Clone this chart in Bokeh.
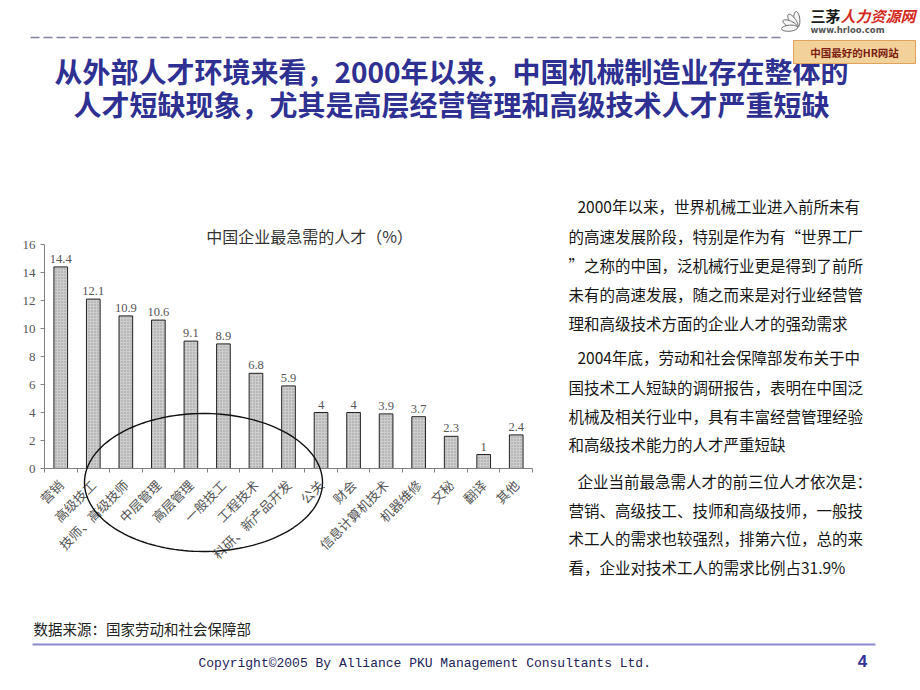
import numpy as np
from bokeh.plotting import figure
from bokeh.models import (Range1d, FixedTicker, CustomJSTickFormatter, ColumnDataSource,
                          LabelSet, Label, PolyAnnotation, Arrow, BoxAnnotation, LinearAxis)
from bokeh.core.properties import value
from bokeh.embed import file_html
from bokeh.resources import INLINE

# ---------------- data ----------------
categories = ["营销", "高级技工", "技师、高级技师", "中层管理", "高层管理", "一般技工",
              "工程技术", "科研、新产品开发", "公关", "财会", "信息计算机技术", "机器维修",
              "文秘", "翻译", "其他"]
values = [14.4, 12.1, 10.9, 10.6, 9.1, 8.9, 6.8, 5.9, 4, 4, 3.9, 3.7, 2.3, 1, 2.4]
y_ticks = [0, 2, 4, 6, 8, 10, 12, 14, 16]

chart_title = "中国企业最急需的人才（%）"
page_title = ["从外部人才环境来看，2000年以来，中国机械制造业存在整体的",
              "人才短缺现象，尤其是高层经营管理和高级技术人才严重短缺"]
paragraph_lines = [
    "2000年以来，世界机械工业进入前所未有",
    "的高速发展阶段，特别是作为有“世界工厂",
    "”之称的中国，泛机械行业更是得到了前所",
    "未有的高速发展，随之而来是对行业经营管",
    "理和高级技术方面的企业人才的强劲需求",
    "2004年底，劳动和社会保障部发布关于中",
    "国技术工人短缺的调研报告，表明在中国泛",
    "机械及相关行业中，具有丰富经营管理经验",
    "和高级技术能力的人才严重短缺",
    "企业当前最急需人才的前三位人才依次是：",
    "营销、高级技工、技师和高级技师，一般技",
    "术工人的需求也较强烈，排第六位，总的来",
    "看，企业对技术工人的需求比例占31.9%",
]
paragraph_indent = [True, False, False, False, False, True, False, False, False, True, False, False, False]
paragraph_y = [205, 235, 264, 293, 322, 356, 386, 415, 443, 480, 509, 537, 566]
source_text = "数据来源：国家劳动和社会保障部"
copyright_text = "Copyright©2005 By Alliance PKU Management Consultants Ltd."
page_number = "4"

# ---------------- layout ----------------
W, H = 920, 690
FL, FR, FT, FB = 44, 532, 244, 468      # chart plot area on the page (px)
n = len(categories)
YMAX = y_ticks[-1]

# page-wide frame in pixel units (y downwards); chart lives on extra ranges
p = figure(width=W, height=H, x_range=Range1d(0, W), y_range=Range1d(H, 0),
           output_backend="svg", toolbar_location=None,
           x_axis_location=None, y_axis_location=None,
           min_border=0, min_border_left=0, min_border_right=0,
           min_border_top=0, min_border_bottom=0)
p.grid.visible = False
p.outline_line_color = None
p.background_fill_color = "white"
p.border_fill_color = "white"

sx = n / (FR - FL)
sy = YMAX / (FB - FT)
p.extra_x_ranges = {"cx": Range1d(-FL * sx, n + (W - FR) * sx)}
p.extra_y_ranges = {"cy": Range1d(-(H - FB) * sy, FB * sy)}

centers = [i + 0.5 for i in range(n)]
bounds = [float(i) for i in range(n + 1)]

AX = "#808080"
yax = LinearAxis(x_range_name="cx", y_range_name="cy", fixed_location=0, bounds=(0, YMAX))
yax.ticker = FixedTicker(ticks=y_ticks, minor_ticks=[])
yax.axis_line_color = AX
yax.major_tick_line_color = AX
yax.major_tick_in = 0
yax.major_tick_out = 4
yax.minor_tick_line_color = None
yax.major_label_text_font = "Liberation Serif"
yax.major_label_text_font_size = "13px"
yax.major_label_text_color = "#555555"
yax.major_label_standoff = 5
p.add_layout(yax, "left")

xax = LinearAxis(x_range_name="cx", y_range_name="cy", fixed_location=0, bounds=(0, n))
xax.ticker = FixedTicker(ticks=centers, minor_ticks=bounds)
xax.formatter = CustomJSTickFormatter(args=dict(labels=categories),
    code="const i = Math.floor(tick); return (i >= 0 && i < labels.length) ? labels[i] : '';")
xax.axis_line_color = AX
xax.major_tick_line_color = None
xax.major_tick_in = 0
xax.major_tick_out = 0
xax.minor_tick_line_color = AX
xax.minor_tick_in = 0
xax.minor_tick_out = 4
xax.major_label_orientation = np.pi / 4
xax.major_label_text_font = "Noto Sans CJK SC"
xax.major_label_text_font_size = "13px"
xax.major_label_text_color = "#555555"
xax.major_label_standoff = 10
p.add_layout(xax, "below")

src = ColumnDataSource(dict(x=centers, top=values, label=[f"{v:g}" for v in values]))
p.vbar(x="x", top="top", bottom=0, width=0.42, source=src,
       x_range_name="cx", y_range_name="cy",
       fill_color="#cdcdcd", line_color="#222222", line_width=1,
       hatch_pattern=".", hatch_color="#959595", hatch_scale=3, hatch_weight=0.7)

p.add_layout(LabelSet(x="x", y="top", text="label", source=src, y_offset=4,
                      x_range_name="cx", y_range_name="cy",
                      text_align="center", text_baseline="bottom",
                      text_font=value("Liberation Serif"), text_font_size="12.5px",
                      text_color="#555555"))

def add_text(px, py, text, size, color="#111111", font="Noto Sans CJK SC", align="left",
             style="normal", baseline="middle"):
    p.add_layout(Label(x=px, y=py, text=text, text_font=font, text_font_size=size,
                       text_color=color, text_align=align, text_baseline=baseline,
                       text_font_style=style))

# chart title
add_text(309, 235, chart_title, "16px", color="#333333", align="center")

# ellipse highlight around categories
t = np.linspace(0, 2 * np.pi, 160)
p.add_layout(PolyAnnotation(xs=list(203 + 119 * np.cos(t)), ys=list(482 + 69 * np.sin(t)),
                            fill_alpha=0, line_color="#111111", line_alpha=1, line_width=1.4))

# page title
TITLE_C = "#2e3092"
add_text(451, 70, page_title[0], "28px", color=TITLE_C, align="center", style="bold")
add_text(451, 103, page_title[1], "28px", color=TITLE_C, align="center", style="bold")

# dashed rule at top
p.add_layout(Arrow(x_start=30, y_start=37, x_end=780, y_end=37,
                   start=None, end=None, line_color="#8383a3", line_width=1.3, line_dash="9 4"))

# logo
pc = (797, 27)
for ang in [95, 125, 155, 185]:
    a = np.deg2rad(ang)
    tt = np.linspace(0, 2 * np.pi, 40)
    lx = 8 + 8 * np.cos(tt)
    ly = 3 * np.sin(tt)
    ppx = pc[0] + lx * np.cos(a) - ly * np.sin(a)
    ppy = pc[1] - (lx * np.sin(a) + ly * np.cos(a))
    p.add_layout(PolyAnnotation(xs=list(ppx), ys=list(ppy), fill_color="#f6f6f6", fill_alpha=1,
                                line_color="#666666", line_alpha=1, line_width=1))
add_text(810, 15, "三茅", "15px", color="#1a1a1a", style="bold")
add_text(840, 15, "人力资源网", "15px", color="#d42a1e", style="bold italic")
add_text(810, 29, "www.hrloo.com", "8.5px", color="#555555", font="DejaVu Sans", style="bold")
p.add_layout(BoxAnnotation(left=793, right=915, top=40, bottom=63,
                           fill_color="#f3d19a", fill_alpha=1, line_color="#e0a35c",
                           line_alpha=1, line_width=1))
add_text(854, 52, "中国最好的HR网站", "10.5px", color="#7a1c10", style="bold", align="center")

# right paragraph
for line, ind, yy in zip(paragraph_lines, paragraph_indent, paragraph_y):
    add_text(577 if ind else 568, yy, line, "15.5px", color="#151515")

# source, footer
add_text(33, 628, source_text, "14.5px", color="#222222")
p.add_layout(Arrow(x_start=32, y_start=644, x_end=875, y_end=644,
                   start=None, end=None, line_color="#8a8acb", line_width=2))
add_text(198, 663, copyright_text, "13px", color="#22225a", font="Liberation Mono")
add_text(862, 660, page_number, "17px", color="#333399", font="Liberation Sans",
         style="bold", align="center")

open("out.html", "w").write(file_html(p, INLINE))
